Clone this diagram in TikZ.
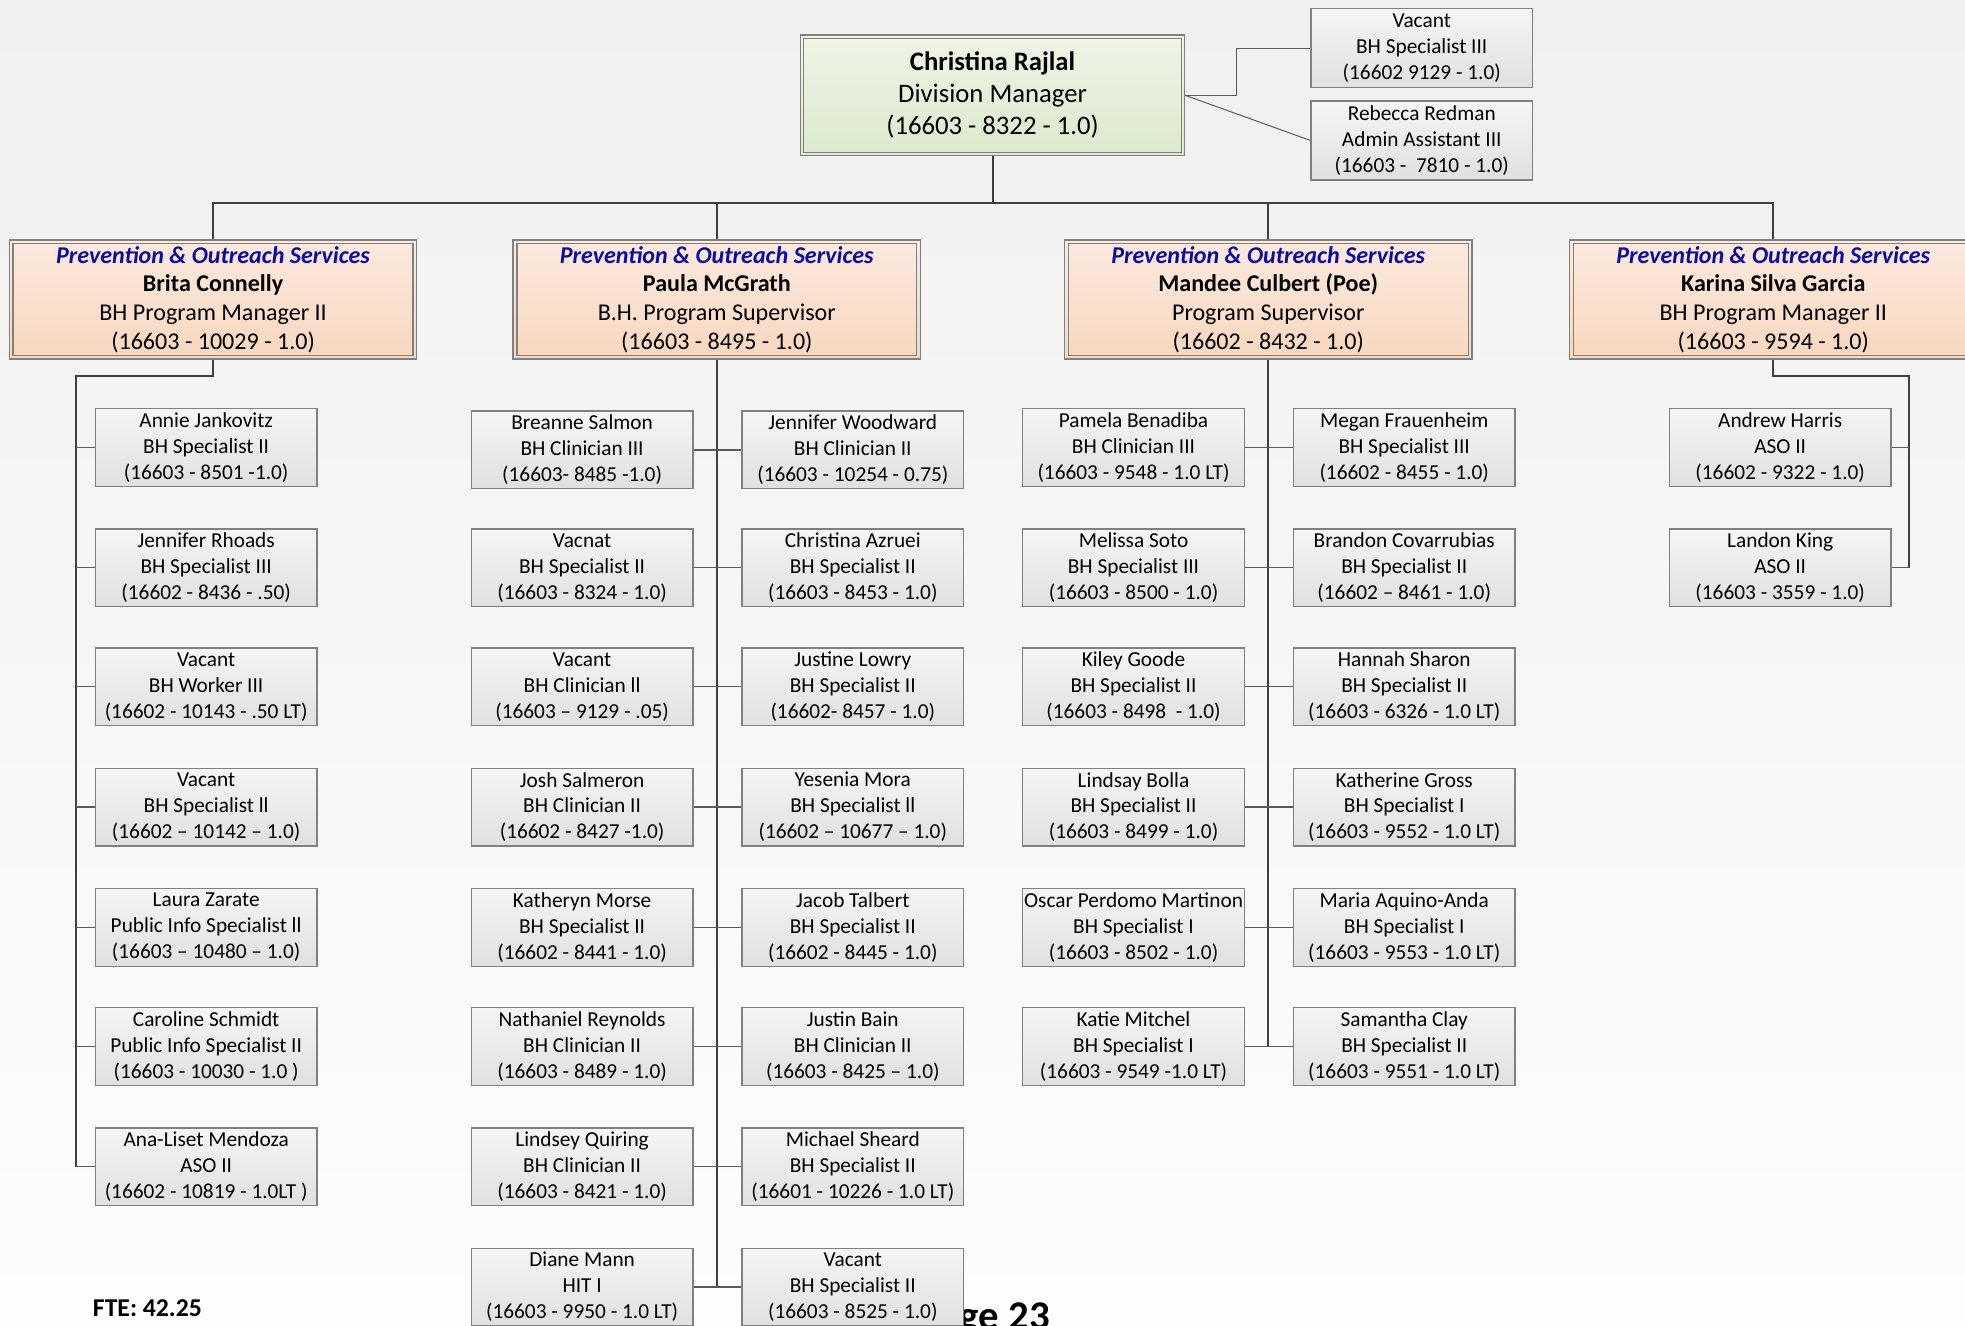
\documentclass[tikz,border=0pt]{standalone}
\usepackage{fontspec}
\setmainfont{Carlito}
\definecolor{bgtop}{RGB}{240,240,240}
\definecolor{bgbot}{RGB}{253,253,253}
\definecolor{boxline}{RGB}{128,128,128}
\definecolor{emptop}{RGB}{245,245,245}
\definecolor{empbot}{RGB}{224,224,224}
\definecolor{mgrtop}{RGB}{251,234,223}
\definecolor{mgrbot}{RGB}{247,215,191}
\definecolor{dirtop}{RGB}{239,244,231}
\definecolor{dirbot}{RGB}{220,233,204}
\definecolor{connc}{RGB}{64,64,64}
\definecolor{branchc}{RGB}{90,90,90}
\definecolor{unitblue}{RGB}{12,12,160}
\newcommand\empbox[5]{\node[emp] (#1) at (#2) {#3\\#4\\#5};}
\begin{document}
\begin{tikzpicture}[x=1pt,y=-1pt,
  emp/.style={rectangle,draw=boxline,line width=1.1pt,top color=emptop,bottom color=empbot,
    minimum width=177pt,minimum height=62pt,inner sep=0pt,align=center,
    font=\fontsize{17}{20.7}\selectfont},
  mgr/.style={rectangle,draw=boxline,line width=1.1pt,top color=mgrtop,bottom color=mgrbot,
    minimum width=325pt,minimum height=95pt,inner sep=0pt,align=center,
    font=\fontsize{19.2}{23}\selectfont},
  dir/.style={rectangle,draw=boxline,line width=1.1pt,top color=dirtop,bottom color=dirbot,
    minimum width=306pt,minimum height=96pt,inner sep=0pt,align=center,
    font=\fontsize{21.3}{25.5}\selectfont},
  innerline/.style={draw=boxline,line width=1pt},
  conn/.style={draw=connc,line width=1.6pt},
  branch/.style={draw=branchc,line width=1.1pt}
]
\useasboundingbox (0,0) rectangle (1568,1058);
\clip (0,0) rectangle (1568,1058);
\shade[top color=bgtop,bottom color=bgbot] (0,0) rectangle (1568,1058);

% footer texts
\node[anchor=base west,inner sep=0pt,font=\fontsize{32.5}{38}\selectfont\bfseries] (pg) at (733,1061) {Page 23};
\node[anchor=west,inner sep=0pt,font=\fontsize{20.5}{24}\selectfont\bfseries] (fte) at (74,1043.5) {FTE: 42.25};

% director
\node[dir] (top) at (792,76) {\textbf{Christina Rajlal}\\Division Manager\\(16603 - 8322 - 1.0)};
\node[emp,minimum height=63pt] (va) at (1134.5,38.5) {Vacant\\BH Specialist III\\(16602 9129 - 1.0)};
\node[emp,minimum height=63pt] (rr) at (1134.5,112) {Rebecca Redman\\Admin Assistant III\\(16603 -\ \ 7810 - 1.0)};

% managers
\node[mgr] (m1) at (170,239) {{\textbf{\textit{\color{unitblue}Prevention \& Outreach Services}}}\\\textbf{Brita Connelly}\\BH Program Manager II\\(16603 - 10029 - 1.0)};
\node[mgr] (m2) at (572,239) {{\textbf{\textit{\color{unitblue}Prevention \& Outreach Services}}}\\\textbf{Paula McGrath}\\B.H. Program Supervisor\\(16603 - 8495 - 1.0)};
\node[mgr] (m3) at (1012,239) {{\textbf{\textit{\color{unitblue}Prevention \& Outreach Services}}}\\\textbf{Mandee Culbert (Poe)}\\Program Supervisor\\(16602 - 8432 - 1.0)};
\node[mgr] (m4) at (1415,239) {{\textbf{\textit{\color{unitblue}Prevention \& Outreach Services}}}\\\textbf{Karina Silva Garcia}\\BH Program Manager II\\(16603 - 9594 - 1.0)};
\foreach \n in {m1,m2,m3,m4}{
  \draw[innerline] ([shift={(3.5,3.5)}]\n.north west) rectangle ([shift={(-3.5,-3.5)}]\n.south east);
}
\draw[innerline] ([shift={(3,3)}]top.north west) rectangle ([shift={(-3,-3)}]top.south east);

% column 1
\empbox{a1}{164.5,357}{Annie Jankovitz}{BH Specialist II}{(16603 - 8501 -1.0)}
\empbox{a2}{164.5,453}{Jennifer Rhoads}{BH Specialist III}{(16602 - 8436 - .50)}
\empbox{a3}{164.5,548}{Vacant}{BH Worker III}{(16602 - 10143 - .50 LT)}
\empbox{a4}{164.5,644}{Vacant}{BH Specialist ll}{(16602 -- 10142 -- 1.0)}
\empbox{a5}{164.5,740}{Laura Zarate}{Public Info Specialist ll}{(16603 -- 10480 -- 1.0)}
\empbox{a6}{164.5,835}{Caroline Schmidt}{Public Info Specialist II}{(16603 - 10030 - 1.0 )}
\empbox{a7}{164.5,931}{Ana-Liset Mendoza}{ASO II}{(16602 - 10819 - 1.0LT )}

% column 2
\empbox{b1}{464.5,359}{Breanne Salmon}{BH Clinician III}{(16603- 8485 -1.0)}
\empbox{c1}{680.5,359}{Jennifer Woodward}{BH Clinician II}{(16603 - 10254 - 0.75)}
\empbox{b2}{464.5,453}{Vacnat}{BH Specialist II}{(16603 - 8324 - 1.0)}
\empbox{c2}{680.5,453}{Christina Azruei}{BH Specialist II}{(16603 - 8453 - 1.0)}
\empbox{b3}{464.5,548}{Vacant}{BH Clinician ll}{(16603 -- 9129 - .05)}
\empbox{c3}{680.5,548}{Justine Lowry}{BH Specialist II}{(16602- 8457 - 1.0)}
\empbox{b4}{464.5,644}{Josh Salmeron}{BH Clinician II}{(16602 - 8427 -1.0)}
\empbox{c4}{680.5,644}{Yesenia Mora}{BH Specialist ll}{(16602 -- 10677 -- 1.0)}
\empbox{b5}{464.5,740}{Katheryn Morse}{BH Specialist II}{(16602 - 8441 - 1.0)}
\empbox{c5}{680.5,740}{Jacob Talbert}{BH Specialist II}{(16602 - 8445 - 1.0)}
\empbox{b6}{464.5,835}{Nathaniel Reynolds}{BH Clinician II}{(16603 - 8489 - 1.0)}
\empbox{c6}{680.5,835}{Justin Bain}{BH Clinician II}{(16603 - 8425 -- 1.0)}
\empbox{b7}{464.5,931}{Lindsey Quiring}{BH Clinician II}{(16603 - 8421 - 1.0)}
\empbox{c7}{680.5,931}{Michael Sheard}{BH Specialist II}{(16601 - 10226 - 1.0 LT)}
\empbox{b8}{464.5,1027}{Diane Mann}{HIT I}{(16603 - 9950 - 1.0 LT)}
\empbox{c8}{680.5,1027}{Vacant}{BH Specialist II}{(16603 - 8525 - 1.0)}

% column 3
\empbox{d1}{904.5,357}{Pamela Benadiba}{BH Clinician III}{(16603 - 9548 - 1.0 LT)}
\empbox{e1}{1120.5,357}{Megan Frauenheim}{BH Specialist III}{(16602 - 8455 - 1.0)}
\empbox{d2}{904.5,453}{Melissa Soto}{BH Specialist III}{(16603 - 8500 - 1.0)}
\empbox{e2}{1120.5,453}{Brandon Covarrubias}{BH Specialist II}{(16602 -- 8461 - 1.0)}
\empbox{d3}{904.5,548}{Kiley Goode}{BH Specialist II}{(16603 - 8498\ \ - 1.0)}
\empbox{e3}{1120.5,548}{Hannah Sharon}{BH Specialist II}{(16603 - 6326 - 1.0 LT)}
\empbox{d4}{904.5,644}{Lindsay Bolla}{BH Specialist II}{(16603 - 8499 - 1.0)}
\empbox{e4}{1120.5,644}{Katherine Gross}{BH Specialist I}{(16603 - 9552 - 1.0 LT)}
\empbox{d5}{904.5,740}{Oscar Perdomo Martinon}{BH Specialist I}{(16603 - 8502 - 1.0)}
\empbox{e5}{1120.5,740}{Maria Aquino-Anda}{BH Specialist I}{(16603 - 9553 - 1.0 LT)}
\empbox{d6}{904.5,835}{Katie Mitchel}{BH Specialist I}{(16603 - 9549 -1.0 LT)}
\empbox{e6}{1120.5,835}{Samantha Clay}{BH Specialist II}{(16603 - 9551 - 1.0 LT)}

% column 4
\empbox{f1}{1420.5,357}{Andrew Harris}{ASO II}{(16602 - 9322 - 1.0)}
\empbox{f2}{1420.5,453}{Landon King}{ASO II}{(16603 - 3559 - 1.0)}

% connectors: director
\coordinate (bus) at (792,162);
\draw[conn] (top.south) -- (bus);
\draw[conn] (m1.north) -- (m1.north |- bus) -- (m4.north |- bus) -- (m4.north);
\draw[conn] (m2.north) -- (m2.north |- bus);
\draw[conn] (m3.north) -- (m3.north |- bus);
\draw[branch] (top.east) -- ++(41,0) |- (va.west);
\draw[branch,line width=0.8pt] (top.east) -- (rr.west);

% column 1
\coordinate (t1) at (61,300);
\draw[conn] (m1.south) |- (t1) -- (t1 |- a7.west);
\foreach \n in {a1,a2,a3,a4,a5,a6,a7}{\draw[branch] (t1 |- \n.west) -- (\n.west);}

% column 2
\draw[conn] (m2.south) -- (m2.south |- b8.east);
\foreach \k in {1,...,8}{\draw[branch] (b\k.east) -- (c\k.west);}

% column 3
\draw[conn] (m3.south) -- (m3.south |- d6.east);
\foreach \k in {1,...,6}{\draw[branch] (d\k.east) -- (e\k.west);}

% column 4
\coordinate (t4) at (1523,300);
\draw[conn] (m4.south) |- (t4) -- (t4 |- f2.east);
\foreach \n in {f1,f2}{\draw[branch] (t4 |- \n.east) -- (\n.east);}
\end{tikzpicture}
\end{document}
